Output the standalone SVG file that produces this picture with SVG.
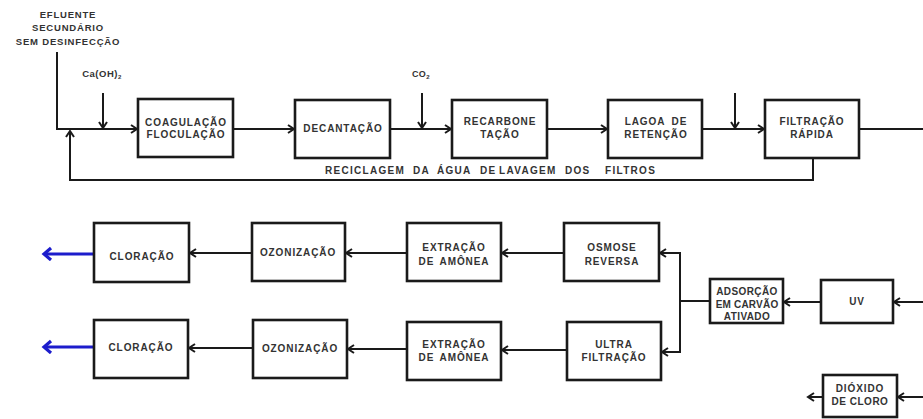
<svg xmlns="http://www.w3.org/2000/svg" width="923" height="419" viewBox="0 0 923 419">
<style>
.box{fill:#fff;stroke:#1a1a1a;stroke-width:2.6}
.t{font-family:"Liberation Sans",Arial,sans-serif;font-weight:bold;font-size:10px;fill:#333;text-anchor:middle;letter-spacing:0.9px}
.s{font-size:9.5px;letter-spacing:0.8px}
.ln{fill:none;stroke:#1a1a1a;stroke-width:2}
.blue{fill:none;stroke:#1c1ccc;stroke-width:3.2}
</style>
<defs>
<marker id="ah" markerUnits="userSpaceOnUse" markerWidth="12" markerHeight="12" refX="8" refY="5" orient="auto">
<path d="M2,1 L8,5 L2,9" fill="none" stroke="#1a1a1a" stroke-width="2"/>
</marker>
<marker id="bh" markerUnits="userSpaceOnUse" markerWidth="16" markerHeight="16" refX="9" refY="7" orient="auto">
<path d="M2,1 L9,7 L2,13" fill="none" stroke="#1c1ccc" stroke-width="3.2"/>
</marker>
</defs>

<g id="labels">
<text class="t s" x="68" y="18">EFLUENTE</text>
<text class="t s" x="68" y="31">SECUNDÁRIO</text>
<text class="t s" x="68" y="45">SEM DESINFECÇÃO</text>
<text class="t" x="102" y="77" style="font-size:9.5px;letter-spacing:0.5px">Ca(OH)<tspan font-size="6" dy="2">2</tspan></text>
<text class="t" x="421" y="77" style="font-size:9px;letter-spacing:0.4px">CO<tspan font-size="6" dy="2">2</tspan></text>
<text class="t" y="174" style="text-anchor:start;letter-spacing:1.3px"><tspan x="325">RECICLAGEM</tspan><tspan x="413">DA</tspan><tspan x="437">ÁGUA</tspan><tspan x="480">DE</tspan><tspan x="499">LAVAGEM</tspan><tspan x="565">DOS</tspan><tspan x="605">FILTROS</tspan></text>
</g>

<g id="connectors">
<polyline class="ln" points="57,52 57,129 137,129" marker-end="url(#ah)"/>
<line class="ln" x1="103" y1="93" x2="103" y2="128" marker-end="url(#ah)"/>
<line class="ln" x1="233" y1="129" x2="294" y2="129" marker-end="url(#ah)"/>
<line class="ln" x1="390" y1="129" x2="451" y2="129" marker-end="url(#ah)"/>
<line class="ln" x1="422" y1="93" x2="422" y2="128" marker-end="url(#ah)"/>
<line class="ln" x1="547" y1="129" x2="607" y2="129" marker-end="url(#ah)"/>
<line class="ln" x1="702" y1="129" x2="764" y2="129" marker-end="url(#ah)"/>
<line class="ln" x1="735" y1="93" x2="735" y2="128" marker-end="url(#ah)"/>
<line class="ln" x1="859" y1="129" x2="923" y2="129"/>
<polyline class="ln" points="813,158 813,180 70,180 70,131" marker-end="url(#ah)"/>

<line class="ln" x1="923" y1="302" x2="894" y2="302" marker-end="url(#ah)"/>
<line class="ln" x1="821" y1="302" x2="784" y2="302" marker-end="url(#ah)"/>
<line class="ln" x1="710" y1="301" x2="680" y2="301"/>
<polyline class="ln" points="680,301 680,253 660,253" marker-end="url(#ah)"/>
<polyline class="ln" points="680,301 680,352 662,352" marker-end="url(#ah)"/>
<line class="ln" x1="564" y1="253" x2="502" y2="253" marker-end="url(#ah)"/>
<line class="ln" x1="407" y1="253" x2="346" y2="253" marker-end="url(#ah)"/>
<line class="ln" x1="252" y1="253" x2="190" y2="253" marker-end="url(#ah)"/>
<line class="blue" x1="94" y1="254" x2="44" y2="254" marker-end="url(#bh)"/>
<line class="ln" x1="567" y1="350" x2="502" y2="350" marker-end="url(#ah)"/>
<line class="ln" x1="407" y1="349" x2="348" y2="349" marker-end="url(#ah)"/>
<line class="ln" x1="253" y1="348" x2="189" y2="348" marker-end="url(#ah)"/>
<line class="blue" x1="94" y1="347" x2="44" y2="347" marker-end="url(#bh)"/>
<line class="ln" x1="923" y1="397" x2="898" y2="397" marker-end="url(#ah)"/>
<line class="ln" x1="823" y1="397" x2="808" y2="397" marker-end="url(#ah)"/>
</g>

<g id="coagulacao"><rect class="box" x="138" y="99" width="95" height="58"/><text class="t" x="186" y="126">COAGULAÇÃO</text><text class="t" x="186" y="138">FLOCULAÇÃO</text></g>
<g id="decantacao"><rect class="box" x="295" y="100" width="95" height="58"/><text class="t" x="343" y="132">DECANTAÇÃO</text></g>
<g id="recarbonetacao"><rect class="box" x="452" y="100" width="95" height="58"/><text class="t" x="500" y="125">RECARBONE</text><text class="t" x="500" y="138">TAÇÃO</text></g>
<g id="lagoa"><rect class="box" x="608" y="100" width="94" height="58"/><text class="t" x="656" y="125" style="word-spacing:3px">LAGOA DE</text><text class="t" x="656" y="138">RETENÇÃO</text></g>
<g id="filtracao-rapida"><rect class="box" x="765" y="100" width="94" height="58"/><text class="t" x="812" y="125">FILTRAÇÃO</text><text class="t" x="812" y="138">RÁPIDA</text></g>

<g id="uv"><rect class="box" x="821" y="280" width="72" height="43"/><text class="t" x="857" y="305">UV</text></g>
<g id="adsorcao"><rect class="box" x="710" y="279" width="73" height="44"/><text class="t" x="747" y="295" style="letter-spacing:0.4px">ADSORÇÃO</text><text class="t" x="747" y="308" style="letter-spacing:0.2px">EM CARVÃO</text><text class="t" x="747" y="320" style="letter-spacing:0.4px">ATIVADO</text></g>
<g id="osmose"><rect class="box" x="564" y="223" width="95" height="58"/><text class="t" x="612" y="251">OSMOSE</text><text class="t" x="612" y="265">REVERSA</text></g>
<g id="ultrafiltracao"><rect class="box" x="567" y="322" width="94" height="58"/><text class="t" x="614" y="348">ULTRA</text><text class="t" x="614" y="361">FILTRAÇÃO</text></g>
<g id="extracao1"><rect class="box" x="407" y="223" width="94" height="58"/><text class="t" x="454" y="251">EXTRAÇÃO</text><text class="t" x="454" y="265" style="word-spacing:2px">DE AMÔNEA</text></g>
<g id="extracao2"><rect class="box" x="407" y="322" width="94" height="58"/><text class="t" x="454" y="348">EXTRAÇÃO</text><text class="t" x="454" y="361" style="word-spacing:2px">DE AMÔNEA</text></g>
<g id="ozonizacao1"><rect class="box" x="252" y="223" width="93" height="58"/><text class="t" x="298" y="256">OZONIZAÇÃO</text></g>
<g id="ozonizacao2"><rect class="box" x="253" y="320" width="94" height="58"/><text class="t" x="300" y="352">OZONIZAÇÃO</text></g>
<g id="cloracao1"><rect class="box" x="94" y="223" width="95" height="59"/><text class="t" x="142" y="260">CLORAÇÃO</text></g>
<g id="cloracao2"><rect class="box" x="94" y="320" width="94" height="58"/><text class="t" x="141" y="351">CLORAÇÃO</text></g>
<g id="dioxido"><rect class="box" x="823" y="375" width="74" height="42"/><text class="t" x="860" y="392">DIÓXIDO</text><text class="t" x="860" y="405" style="letter-spacing:0.5px">DE CLORO</text></g>
</svg>
